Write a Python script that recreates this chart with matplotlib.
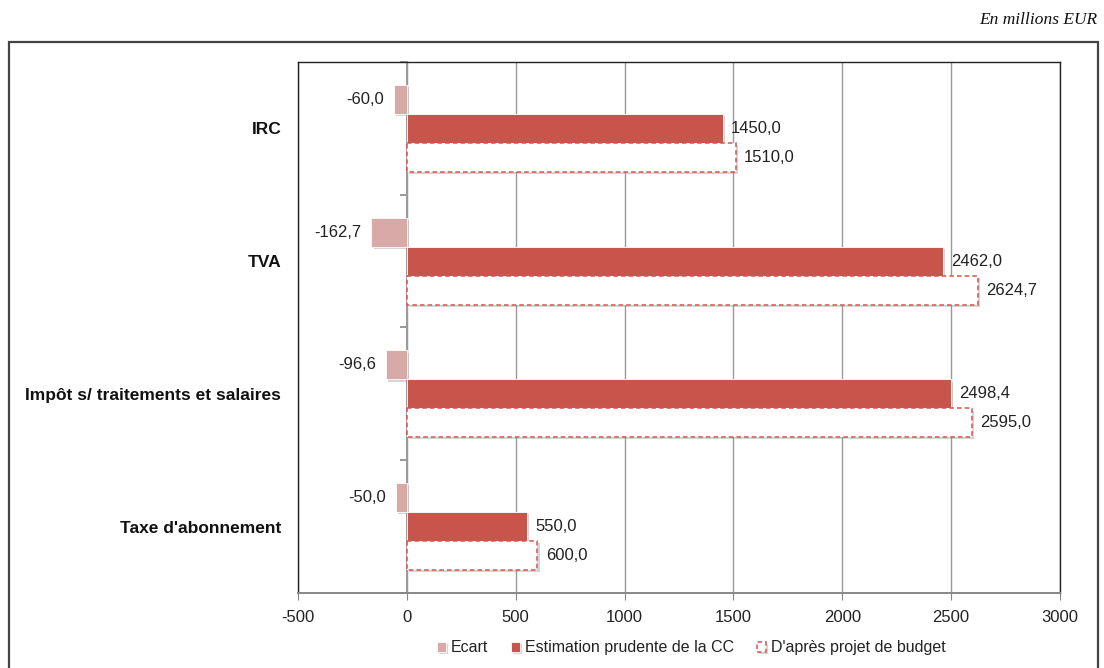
import numpy as np
import matplotlib
matplotlib.use('Agg')
import matplotlib.pyplot as plt
import matplotlib.patheffects as pe
from matplotlib.patches import Rectangle

plt.rcParams['font.family'] = ['Liberation Sans', 'DejaVu Sans']

# Recettes fiscales (en millions EUR)
categories = ['IRC', 'TVA', 'Impôt s/ traitements et salaires', "Taxe d'abonnement"]
ecart = [-60.0, -162.7, -96.6, -50.0]
estimation_cc = [1450.0, 2462.0, 2498.4, 550.0]
projet_budget = [1510.0, 2624.7, 2595.0, 600.0]
xticks = [-500, 0, 500, 1000, 1500, 2000, 2500, 3000]

c_ecart = '#D9A9A8'
c_estim = '#C8554B'
c_budget = '#D9534F'

def fmt(v):
    return f'{v:.1f}'.replace('.', ',')

fig = plt.figure(figsize=(11.04, 6.68), dpi=100)
ax = fig.add_axes([0.2699, 0.1123, 0.6902, 0.7949])

y = np.arange(len(categories))
h = 0.218
shadow = [pe.SimplePatchShadow(offset=(1.6, -1.6), shadow_rgbFace='#888888', alpha=0.35), pe.Normal()]

b1 = ax.barh(y - h, ecart, height=h, color=c_ecart, edgecolor='white', linewidth=0.6,
             label='Ecart', zorder=3)
b2 = ax.barh(y, estimation_cc, height=h, color=c_estim, edgecolor='white', linewidth=0.6,
             label='Estimation prudente de la CC', zorder=3)
b3 = ax.barh(y + h, projet_budget, height=h, color='white', edgecolor=c_budget, linewidth=1.1,
             linestyle=(0, (3, 2)), label="D'après projet de budget", zorder=3)
for bars in (b1, b2, b3):
    for p in bars:
        p.set_path_effects(shadow)

# étiquettes de valeurs
for bars, vals in ((b1, ecart), (b2, estimation_cc), (b3, projet_budget)):
    for p, v in zip(bars, vals):
        yc = p.get_y() + p.get_height() / 2
        if v < 0:
            ax.annotate(fmt(v), (v, yc), xytext=(-7, 0), textcoords='offset points',
                        ha='right', va='center', fontsize=12, color='#222222')
        else:
            ax.annotate(fmt(v), (v, yc), xytext=(6, 0), textcoords='offset points',
                        ha='left', va='center', fontsize=12, color='#222222')

ax.set_xlim(-500, 3000)
ax.set_ylim(len(categories) - 0.5, -0.5)
ax.set_xticks(xticks)
ax.set_xticklabels([str(t) for t in xticks])
ax.tick_params(axis='x', length=5, color='#888888', labelsize=12, labelcolor='#222222', pad=7)
ax.grid(axis='x', color='#9a9a9a', linewidth=1, zorder=0)
ax.set_axisbelow(True)

ax.set_yticks(y)
ax.set_yticklabels(categories, fontsize=12.5, fontweight='bold', color='#111111')
ax.tick_params(axis='y', length=0, pad=12)

for s in ('left', 'top', 'right'):
    ax.spines[s].set_color('#222222')
    ax.spines[s].set_linewidth(1.0)
ax.spines['bottom'].set_color('#888888')
ax.spines['bottom'].set_linewidth(1.4)

# axe vertical à zéro avec graduations entre catégories
sec = ax.secondary_yaxis(500 / 3500)
sec.set_yticks(np.arange(len(categories) + 1) - 0.5)
sec.set_yticklabels([])
sec.tick_params(axis='y', direction='out', length=5, color='#888888', width=1.2)
sec.spines['left'].set_color('#999999')
sec.spines['left'].set_linewidth(1.4)

fig.legend(handles=[b1, b2, b3], loc='center', bbox_to_anchor=(0.626, 0.03), ncol=3,
           frameon=False, fontsize=11.5, handlelength=0.6, handleheight=0.6,
           handletextpad=0.3, columnspacing=1.4, labelcolor='#222222')

# cadre extérieur
fig.patches.append(Rectangle((9 / 1104, -0.05), 1089 / 1104, 1.05 - 42 / 668,
                             transform=fig.transFigure, fill=False,
                             edgecolor='#444444', linewidth=1.6))

fig.text(1097 / 1104, 1 - 20 / 668, 'En millions EUR', ha='right', va='center',
         fontsize=12.5, style='italic', family='Liberation Serif', color='#111111')

fig.savefig('out.png', dpi=100)
